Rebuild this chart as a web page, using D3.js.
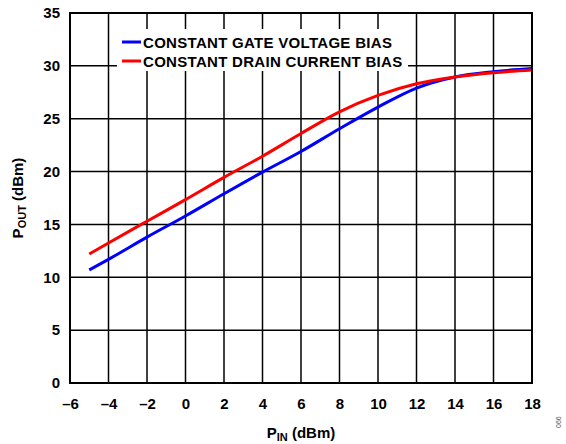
<!DOCTYPE html>
<html>
<head>
<meta charset="utf-8">
<script src="https://cdn.jsdelivr.net/npm/d3@7/dist/d3.min.js"></script>
<style>
body { margin: 0; background: #fff; }
svg text { font-family: "Liberation Sans", Arial, sans-serif; font-weight: bold; fill: #000; }
</style>
</head>
<body>
<div id="main"></div>
<script>
var pin = [-5, -4, -2, 0, 2, 4, 6, 8, 10, 12, 14, 16, 18];
var gateBias = [10.7, 11.7, 13.8, 15.8, 17.9, 19.95, 21.9, 24.05, 26.1, 27.9, 28.95, 29.45, 29.75];
var drainBias = [12.2, 13.25, 15.3, 17.35, 19.45, 21.45, 23.6, 25.65, 27.2, 28.3, 28.95, 29.35, 29.6];
var seriesNames = ["CONSTANT GATE VOLTAGE BIAS", "CONSTANT DRAIN CURRENT BIAS"];
var seriesColors = ["#0000ff", "#ff0000"];
var xTicks = [-6, -4, -2, 0, 2, 4, 6, 8, 10, 12, 14, 16, 18];
var yTicks = [0, 5, 10, 15, 20, 25, 30, 35];

var w = 566, h = 444;
var m = {left: 70, top: 13, right: 34, bottom: 61};
var pw = w - m.left - m.right, ph = h - m.top - m.bottom;

var svg = d3.select("#main").append("svg").attr("width", w).attr("height", h);
var g = svg.append("g").attr("transform", "translate(" + m.left + "," + m.top + ")");

var x = d3.scaleLinear().domain([-6, 18]).range([0, pw]);
var y = d3.scaleLinear().domain([0, 35]).range([ph, 0]);

// grid
g.append("g").selectAll("line").data(xTicks).enter().append("line")
  .attr("x1", function (d) {return x(d);}).attr("x2", function (d) {return x(d);})
  .attr("y1", 0).attr("y2", ph)
  .attr("stroke", "#000").attr("stroke-width", 1.5);
g.append("g").selectAll("line").data(yTicks).enter().append("line")
  .attr("x1", 0).attr("x2", pw)
  .attr("y1", function (d) {return y(d);}).attr("y2", function (d) {return y(d);})
  .attr("stroke", "#000").attr("stroke-width", 1.5);

// legend box background
g.append("rect").attr("x", 47).attr("y", 16).attr("width", 291).attr("height", 42).attr("fill", "#fff");

// lines
var line = d3.line().curve(d3.curveMonotoneX)
  .x(function (d) {return x(d[0]);}).y(function (d) {return y(d[1]);});
[gateBias, drainBias].forEach(function (s, i) {
  g.append("path").datum(pin.map(function (p, j) {return [p, s[j]];}))
    .attr("d", line).attr("fill", "none")
    .attr("stroke", seriesColors[i]).attr("stroke-width", 3);
});

// frame
g.append("rect").attr("width", pw).attr("height", ph)
  .attr("fill", "none").attr("stroke", "#000").attr("stroke-width", 2);

// axes labels
var xAxis = d3.axisBottom(x).tickValues(xTicks).tickSize(0).tickPadding(15)
  .tickFormat(function (d) {return d < 0 ? "\u2013" + Math.abs(d) : d;});
var xa = g.append("g").attr("transform", "translate(0," + ph + ")").call(xAxis);
xa.select(".domain").remove();
xa.selectAll("text").style("font-size", "15px");

var yAxis = d3.axisLeft(y).tickValues(yTicks).tickSize(0).tickPadding(10);
var ya = g.append("g").call(yAxis);
ya.select(".domain").remove();
ya.selectAll("text").style("font-size", "15px");

// legend
seriesNames.forEach(function (n, i) {
  var ly = 29 + i * 19;
  g.append("line").attr("x1", 52).attr("x2", 71).attr("y1", ly).attr("y2", ly)
    .attr("stroke", seriesColors[i]).attr("stroke-width", 3);
  g.append("text").attr("x", 73).attr("y", ly + 5.5).style("font-size", "15px")
    .style("letter-spacing", "0.3px").text(n);
});

// axis titles
var xt = svg.append("text").attr("x", 301).attr("y", 438).attr("text-anchor", "middle").style("font-size", "15px");
xt.append("tspan").text("P");
xt.append("tspan").attr("dy", 3).style("font-size", "11px").text("IN");
xt.append("tspan").attr("dy", -3).text(" (dBm)");

var yt = svg.append("text").attr("transform", "translate(23,198) rotate(-90)").attr("text-anchor", "middle").style("font-size", "15px");
yt.append("tspan").text("P");
yt.append("tspan").attr("dy", 3).style("font-size", "11px").text("OUT");
yt.append("tspan").attr("dy", -3).text(" (dBm)");

svg.append("text").attr("transform", "translate(561,428) rotate(-90)")
  .style("font-size", "7px").style("font-weight", "normal").style("fill", "#555").text("066");
</script>
</body>
</html>
